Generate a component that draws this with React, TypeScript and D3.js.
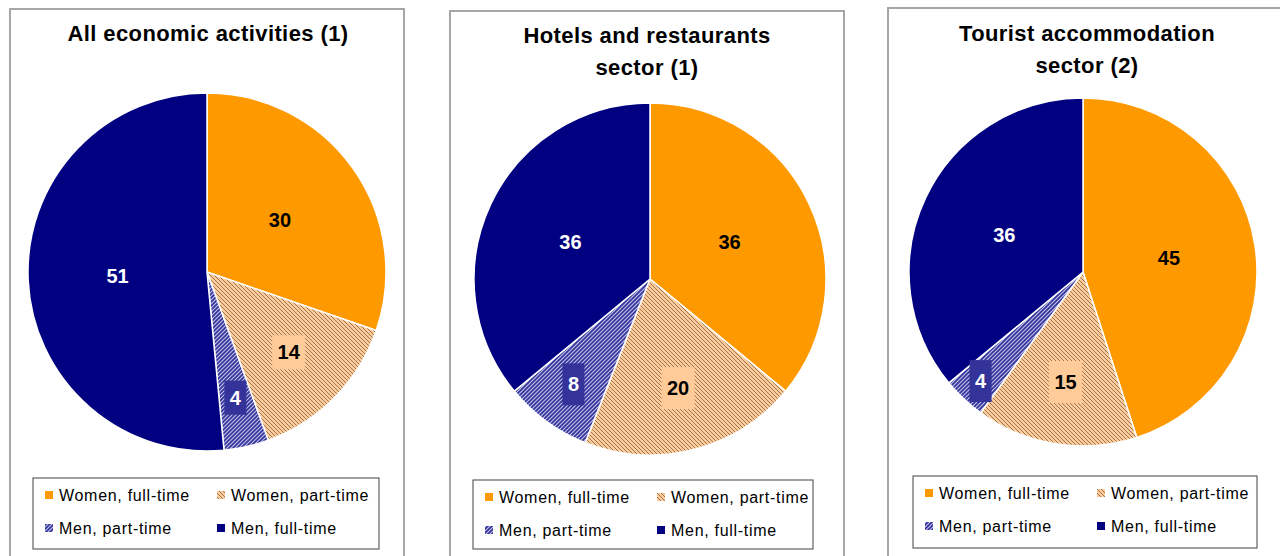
import React from 'react';
import * as d3 from 'd3';

// data
const categories = ['Women, full-time', 'Women, part-time', 'Men, part-time', 'Men, full-time'];
const allActivities = [30, 14, 4, 51];
const hotelsRestaurants = [36, 20, 8, 36];
const touristAccommodation = [45, 15, 4, 36];
const chartTitles = [
  ['All economic activities (1)'],
  ['Hotels and restaurants', 'sector (1)'],
  ['Tourist accommodation', 'sector (2)'],
];

const baseColors = ['#FF9900', '#FFCC99', '#333399', '#000080'];
const fills = ['#FF9900', 'url(#hatchPeach)', 'url(#hatchBlue)', '#000080'];
const labelColors = ['#000', '#000', '#fff', '#fff'];

// layout of the three panels
const panels = [
  { values: allActivities, x: 10, y: 9, w: 394, cx: 207, cy: 272, r: 179, titleX: 208, titleY: 41, legend: { x: 33, y: 478, w: 346, h: 71 }, smallK: 0.72, boxH: 34 },
  { values: hotelsRestaurants, x: 450, y: 11, w: 394, cx: 650, cy: 279, r: 176, titleX: 647, titleY: 43, legend: { x: 473, y: 480, w: 340, h: 69 }, smallK: 0.74, boxH: 42 },
  { values: touristAccommodation, x: 888, y: 8, w: 420, cx: 1083, cy: 272, r: 174, titleX: 1087, titleY: 41, legend: { x: 913, y: 476, w: 344, h: 72 }, smallK: 0.86, boxH: 42 },
];

const font = 'Liberation Sans, Arial, sans-serif';

function PiePanel({ p, titleLines }) {
  const pie = d3.pie<number>().sort(null).value(d => d);
  const arcs = pie(p.values);
  const total = d3.sum(p.values);
  const arc = d3.arc<any>().innerRadius(0).outerRadius(p.r);

  const labelK = (v: number) => {
    const f = v / total;
    if (f > 0.25) return 0.5;
    if (f > 0.1) return 0.64;
    return p.smallK;
  };

  const lg = p.legend;
  const colX = [lg.x + 12, lg.x + 184];
  const rowY = [lg.y + 23, lg.y + 56];

  return (
    <g>
      <rect x={p.x} y={p.y} width={p.w} height={600} fill="#fff" stroke="#a6a6a6" strokeWidth={2} />
      {titleLines.map((t, i) => (
        <text key={i} x={p.titleX} y={p.titleY + i * 32} textAnchor="middle" fontFamily={font}
          fontWeight="bold" fontSize={22} letterSpacing={0.4} fill="#000">{t}</text>
      ))}
      <g transform={`translate(${p.cx},${p.cy})`}>
        {arcs.map((a, i) => (
          <path key={i} d={arc(a)} fill={fills[i]} stroke="#fff" strokeWidth={1.5} />
        ))}
        {arcs.map((a, i) => {
          const k = labelK(a.value) * p.r;
          const mid = (a.startAngle + a.endAngle) / 2;
          const lx = Math.sin(mid) * k;
          const ly = -Math.cos(mid) * k;
          const txt = String(a.value);
          const bw = txt.length * 11 + 11;
          return (
            <g key={'l' + i}>
              <rect x={lx - bw / 2} y={ly - p.boxH / 2} width={bw} height={p.boxH} fill={baseColors[i]} />
              <text x={lx} y={ly + 7} textAnchor="middle" fontFamily={font} fontWeight="bold"
                fontSize={20} fill={labelColors[i]}>{txt}</text>
            </g>
          );
        })}
      </g>
      <rect x={lg.x} y={lg.y} width={lg.w} height={lg.h} fill="#fff" stroke="#404040" strokeWidth={1} />
      {categories.map((c, j) => {
        const mx = colX[j % 2];
        const my = rowY[Math.floor(j / 2)];
        return (
          <g key={'lg' + j}>
            <rect x={mx} y={my - 10} width={8} height={8} fill={fills[j]} />
            <text x={mx + 14} y={my} fontFamily={font} fontSize={16} letterSpacing={0.7} fill="#000">{c}</text>
          </g>
        );
      })}
    </g>
  );
}

export default function App() {
  return (
    <svg width={1280} height={556} style={{ position: 'absolute', left: 0, top: 0, background: '#fff' }}>
      <defs>
        <pattern id="hatchPeach" patternUnits="userSpaceOnUse" width={4} height={4}>
          <rect width={4} height={4} fill="#FFCC99" />
          <path d="M-1,-1 L5,5 M-1,3 L1,5 M3,-1 L5,1" stroke="#4a3a28" strokeWidth={0.9} strokeOpacity={0.65} />
        </pattern>
        <pattern id="hatchBlue" patternUnits="userSpaceOnUse" width={4} height={4}>
          <rect width={4} height={4} fill="#333399" />
          <path d="M-1,5 L5,-1 M-1,1 L1,-1 M3,5 L5,3" stroke="#c4c4ee" strokeWidth={1.1} />
        </pattern>
      </defs>
      <rect width={1280} height={556} fill="#fff" />
      {panels.map((p, i) => (
        <PiePanel key={i} p={p} titleLines={chartTitles[i]} />
      ))}
    </svg>
  );
}
